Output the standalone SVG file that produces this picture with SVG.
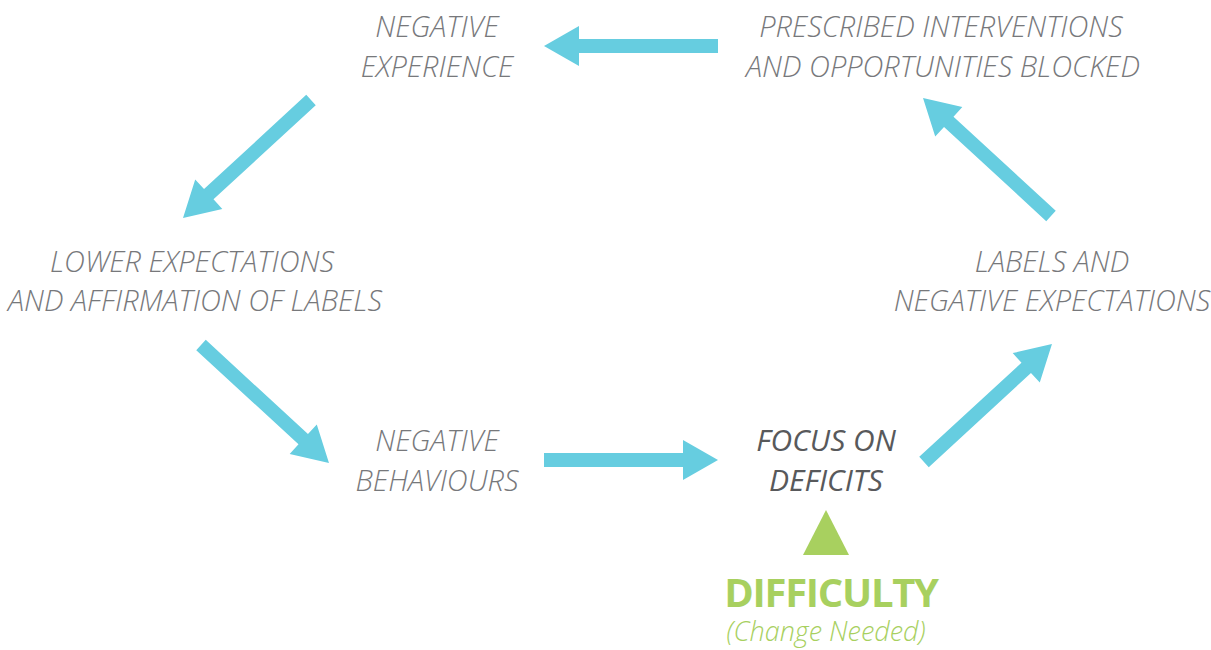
<svg xmlns="http://www.w3.org/2000/svg" width="1211" height="650" viewBox="0 0 1211 650">
  <style>
    .lbl { font-family: "Open Sans", "Liberation Sans", sans-serif; font-style: italic; font-weight: 300; font-size: 29px; fill: #77787b; text-anchor: middle; }
    .focus { font-family: "Open Sans", "Liberation Sans", sans-serif; font-style: italic; font-weight: 400; font-size: 30px; fill: #58595b; text-anchor: middle; }
    .diff { font-family: "Open Sans", "Liberation Sans", sans-serif; font-weight: 700; font-size: 40px; letter-spacing: -1.3px; fill: #a8d05f; text-anchor: middle; }
    .note { font-family: "Open Sans", "Liberation Sans", sans-serif; font-style: italic; font-weight: 300; font-size: 27px; fill: #a8d05f; text-anchor: middle; }
    .arrow { fill: #66cde0; }
  </style>
  <defs>
    <!-- block arrow pointing along +x, tail at origin -->
    <path id="blockArrow" d="M0,-7 L139,-7 L139,-20 L174,0 L139,20 L139,7 L0,7 Z"/>
  </defs>

  <g id="connectors" class="arrow">
    <use href="#blockArrow" transform="translate(718,46) rotate(180)"/>
    <use href="#blockArrow" transform="translate(311,100) rotate(137.35)"/>
    <use href="#blockArrow" transform="translate(201,345) rotate(42.65)"/>
    <use href="#blockArrow" transform="translate(544,460)"/>
    <use href="#blockArrow" transform="translate(924,462) rotate(-42.65)"/>
    <use href="#blockArrow" transform="translate(1051,216) rotate(-137.35)"/>
  </g>

  <g id="negative-experience">
    <text class="lbl" x="437" y="37">NEGATIVE</text>
    <text class="lbl" x="437" y="77">EXPERIENCE</text>
  </g>

  <g id="prescribed-interventions">
    <text class="lbl" x="941" y="37">PRESCRIBED INTERVENTIONS</text>
    <text class="lbl" x="943" y="77">AND OPPORTUNITIES BLOCKED</text>
  </g>

  <g id="lower-expectations">
    <text class="lbl" x="192" y="272">LOWER EXPECTATIONS</text>
    <text class="lbl" x="195" y="311">AND AFFIRMATION OF LABELS</text>
  </g>

  <g id="labels-negative-expectations">
    <text class="lbl" x="1052" y="272">LABELS AND</text>
    <text class="lbl" x="1052" y="311">NEGATIVE EXPECTATIONS</text>
  </g>

  <g id="negative-behaviours">
    <text class="lbl" x="437" y="451">NEGATIVE</text>
    <text class="lbl" x="437" y="491">BEHAVIOURS</text>
  </g>

  <g id="focus-on-deficits">
    <text class="focus" x="826" y="451">FOCUS ON</text>
    <text class="focus" x="826" y="491">DEFICITS</text>
  </g>

  <g id="difficulty">
    <polygon points="826,510 849,555 803,555" fill="#a8d05f"/>
    <text class="diff" x="831" y="607">DIFFICULTY</text>
    <text class="note" x="826" y="641">(Change Needed)</text>
  </g>
</svg>
